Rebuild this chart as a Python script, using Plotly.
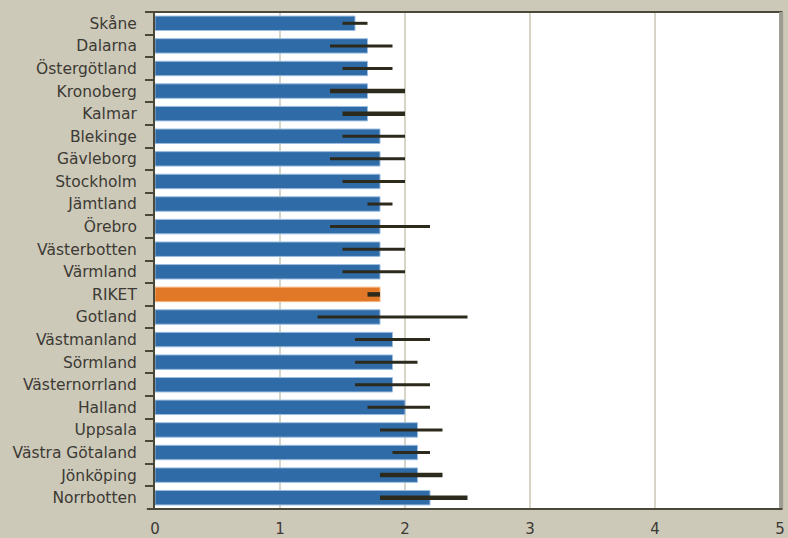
import plotly.graph_objects as go

# Counties, top to bottom
regions = ["Skåne", "Dalarna", "Östergötland", "Kronoberg", "Kalmar", "Blekinge",
           "Gävleborg", "Stockholm", "Jämtland", "Örebro", "Västerbotten", "Värmland",
           "RIKET", "Gotland", "Västmanland", "Sörmland", "Västernorrland", "Halland",
           "Uppsala", "Västra Götaland", "Jönköping", "Norrbotten"]
values = [1.6, 1.7, 1.7, 1.7, 1.7, 1.8, 1.8, 1.8, 1.8, 1.8, 1.8, 1.8,
          1.8, 1.8, 1.9, 1.9, 1.9, 2.0, 2.1, 2.1, 2.1, 2.2]
ci_low = [1.5, 1.4, 1.5, 1.4, 1.5, 1.5, 1.4, 1.5, 1.7, 1.4, 1.5, 1.5,
          1.7, 1.3, 1.6, 1.6, 1.6, 1.7, 1.8, 1.9, 1.8, 1.8]
ci_high = [1.7, 1.9, 1.9, 2.0, 2.0, 2.0, 2.0, 2.0, 1.9, 2.2, 2.0, 2.0,
           1.8, 2.5, 2.2, 2.1, 2.2, 2.2, 2.3, 2.2, 2.3, 2.5]
heavy = ["Kronoberg", "Kalmar", "RIKET", "Jönköping", "Norrbotten"]
x_ticks = [0, 1, 2, 3, 4, 5]

BLUE = "#2f6ba6"
ORANGE = "#e07828"
BG = "#cdc9b9"
INK = "#2c2a1c"
TEXT = "#3c3a34"
FONT = "'DejaVu Sans', sans-serif"

bar_colors = [ORANGE if r == "RIKET" else BLUE for r in regions]
bar_lines = ["#f2b27a" if r == "RIKET" else "#9cbde0" for r in regions]

fig = go.Figure()
fig.add_trace(go.Bar(
    y=regions, x=values, orientation="h", width=0.64,
    marker=dict(color=bar_colors, line=dict(color=bar_lines, width=1)),
    hoverinfo="x+y", showlegend=False,
))


def segments(keep):
    xs, ys = [], []
    for r, lo, hi in zip(regions, ci_low, ci_high):
        if keep(r):
            xs += [lo, hi, None]
            ys += [r, r, None]
    return xs, ys


# confidence intervals as plain horizontal strokes
for keep, w in [(lambda r: r not in heavy, 3), (lambda r: r in heavy, 4.5)]:
    xs, ys = segments(keep)
    fig.add_trace(go.Scatter(x=xs, y=ys, mode="lines",
                             line=dict(color=INK, width=w),
                             hoverinfo="skip", showlegend=False))

fig.update_layout(
    width=788, height=538,
    margin=dict(l=155, r=8, t=12, b=29),
    paper_bgcolor=BG, plot_bgcolor="white",
    font=dict(family=FONT, color=TEXT),
    shapes=[
        # frame: top edge, bottom edge and right-hand shadow
        dict(type="line", xref="paper", yref="paper", x0=-0.013, x1=1.004, y0=1.0, y1=1.0,
             line=dict(color="#4a4838", width=2)),
        dict(type="rect", xref="paper", yref="paper", x0=0.9985, x1=1.005, y0=0, y1=1,
             fillcolor="#9e9c92", line=dict(width=0)),
        dict(type="line", xref="paper", yref="paper", x0=-0.013, x1=1.004, y0=0, y1=0,
             line=dict(color="#4a4838", width=2)),
    ],
)
fig.update_xaxes(
    range=[0, 5], tickvals=x_ticks, ticktext=[str(t) for t in x_ticks],
    showgrid=True, gridcolor="#d8d4c8", gridwidth=2, zeroline=False,
    showline=False, ticks="", tickfont=dict(size=15, color=TEXT),
    ticklabelstandoff=9, automargin=False, fixedrange=True,
)
fig.update_yaxes(
    categoryorder="array", categoryarray=regions, range=[21.5, -0.5],
    tickson="boundaries", ticks="outside", ticklen=8, tickwidth=2, tickcolor="#4a4838",
    showline=True, linecolor="#4a4838", linewidth=2, showgrid=False,
    tickfont=dict(size=15.5, color=TEXT), ticklabelstandoff=13,
    automargin=False, fixedrange=True,
)

fig.write_html("out.html")
